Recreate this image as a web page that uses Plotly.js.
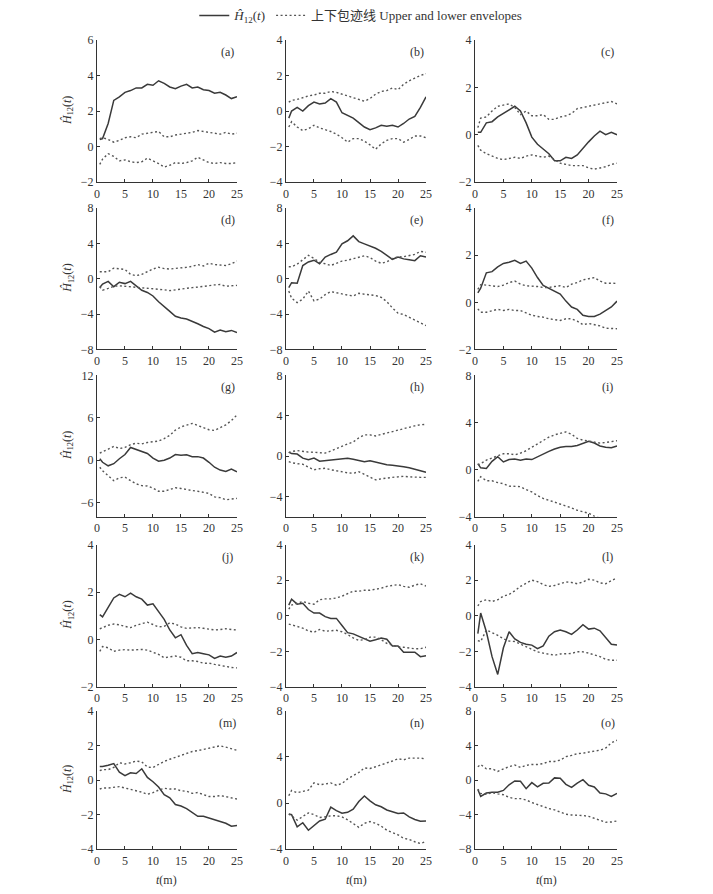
<!DOCTYPE html>
<html><head><meta charset="utf-8">
<script src="https://cdn.plot.ly/plotly-3.0.1.min.js"></script>
<style>html,body{margin:0;padding:0;background:#fff;}#chart{width:713px;height:894px;}</style>
</head><body><div id="chart"></div>
<script>
const T = [0.5,1,2,3,4,5,6,7,8,9,10,11,12,13,14,15,16,17,18,19,20,21,22,23,24,25];

const A_H = [0.4,0.45,1.3,2.6,2.8,3.05,3.15,3.3,3.3,3.5,3.45,3.7,3.55,3.35,3.25,3.4,3.5,3.3,3.35,3.2,3.15,3.0,3.05,2.9,2.7,2.8];
const A_U = [0.45,0.5,0.4,0.25,0.35,0.5,0.55,0.5,0.7,0.75,0.8,0.85,0.55,0.55,0.65,0.7,0.75,0.8,0.9,0.85,0.8,0.75,0.7,0.8,0.7,0.75];
const A_L = [-1.0,-0.7,-0.4,-0.55,-0.8,-0.75,-0.85,-0.9,-0.85,-0.65,-0.8,-0.95,-1.15,-1.05,-0.9,-0.95,-0.9,-0.8,-0.6,-0.75,-0.9,-0.95,-0.9,-0.95,-0.95,-0.9];

const B_H = [-0.4,0.0,0.2,0.0,0.3,0.5,0.4,0.45,0.7,0.5,-0.1,-0.25,-0.4,-0.65,-0.9,-1.05,-0.95,-0.8,-0.85,-0.8,-0.9,-0.7,-0.45,-0.3,0.2,0.8];
const B_U = [0.5,0.6,0.65,0.75,0.85,0.9,1.0,1.0,1.1,1.05,0.95,0.85,0.75,0.65,0.55,0.7,0.95,1.1,1.15,1.3,1.2,1.5,1.7,1.85,2.0,2.1];
const B_L = [-0.9,-0.6,-0.9,-1.1,-1.0,-0.8,-0.95,-1.05,-1.15,-1.3,-1.5,-1.75,-1.55,-1.55,-1.7,-1.9,-2.15,-1.85,-1.65,-1.55,-1.55,-1.75,-1.6,-1.4,-1.4,-1.5];

const C_H = [0.1,0.1,0.5,0.55,0.75,0.9,1.05,1.2,1.0,0.5,-0.1,-0.4,-0.6,-0.8,-1.1,-1.1,-0.95,-1.0,-0.85,-0.55,-0.3,-0.05,0.15,0.0,0.1,0.0];
const C_U = [0.3,0.7,0.75,1.0,1.2,1.25,1.3,1.15,0.85,1.0,0.8,0.8,0.85,0.65,0.65,0.75,0.8,0.9,1.1,1.15,1.2,1.25,1.3,1.35,1.4,1.3];
const C_L = [-0.45,-0.65,-0.8,-0.9,-1.0,-1.05,-1.0,-0.95,-1.0,-0.9,-0.85,-0.9,-0.95,-0.9,-1.05,-1.2,-1.25,-1.3,-1.3,-1.3,-1.4,-1.45,-1.4,-1.35,-1.25,-1.2];

const D_H = [-1.0,-0.6,-0.3,-0.9,-0.4,-0.55,-0.3,-0.8,-1.3,-1.55,-1.95,-2.6,-3.2,-3.7,-4.25,-4.45,-4.55,-4.8,-5.1,-5.4,-5.65,-6.05,-5.8,-6.0,-5.85,-6.1];
const D_U = [0.8,0.8,0.8,1.2,1.1,1.05,0.5,0.35,0.5,0.8,1.1,1.3,1.15,1.1,1.15,1.25,1.3,1.4,1.6,1.45,1.75,1.6,1.55,1.5,1.7,2.0];
const D_L = [-0.9,-1.3,-1.1,-0.85,-0.8,-0.85,-0.9,-1.0,-1.05,-1.1,-1.1,-1.2,-1.25,-1.35,-1.25,-1.15,-1.1,-1.0,-0.95,-0.85,-0.8,-0.7,-0.65,-0.85,-0.8,-0.75];

const E_H = [-1.0,-0.45,-0.5,1.5,1.9,2.1,1.7,2.45,2.75,3.0,3.95,4.3,4.85,4.2,3.95,3.7,3.45,3.1,2.65,2.2,2.45,2.25,2.15,2.05,2.6,2.45];
const E_U = [1.35,1.35,1.65,2.2,2.65,2.3,1.85,1.7,1.5,1.75,2.0,2.1,2.25,2.4,2.6,2.4,2.0,1.75,1.9,2.3,2.45,2.5,2.6,2.75,3.1,3.0];
const E_L = [-1.4,-2.2,-2.7,-2.3,-1.4,-2.5,-2.3,-1.8,-1.45,-1.6,-1.75,-1.85,-1.95,-1.65,-1.75,-1.85,-1.9,-2.1,-2.6,-3.3,-3.9,-4.05,-4.35,-4.7,-5.0,-5.3];

const F_H = [0.4,0.6,1.25,1.3,1.5,1.65,1.7,1.78,1.65,1.75,1.45,1.05,0.72,0.6,0.5,0.35,0.05,-0.2,-0.3,-0.55,-0.6,-0.6,-0.5,-0.35,-0.2,0.05];
const F_U = [0.55,0.75,0.73,0.7,0.67,0.73,0.84,0.9,0.77,0.7,0.7,0.67,0.63,0.63,0.67,0.7,0.63,0.77,0.84,0.95,1.0,1.05,0.9,0.81,0.81,0.8];
const F_L = [-0.28,-0.42,-0.42,-0.35,-0.3,-0.35,-0.3,-0.35,-0.35,-0.45,-0.55,-0.6,-0.63,-0.7,-0.73,-0.77,-0.7,-0.7,-0.8,-0.95,-0.9,-0.95,-1.0,-1.1,-1.12,-1.12];

const G_H = [0.2,-0.3,-0.8,-0.5,0.2,0.8,1.8,1.55,1.3,0.95,0.3,-0.15,0.0,0.3,0.8,0.7,0.75,0.5,0.5,0.3,-0.3,-1.0,-1.4,-1.6,-1.25,-1.65];
const G_U = [1.0,1.15,1.55,1.95,1.65,1.8,2.2,2.4,2.3,2.5,2.55,2.7,3.05,3.5,4.25,4.7,4.95,5.2,4.9,4.6,4.3,4.2,4.6,5.0,5.6,6.4];
const G_L = [-1.0,-1.5,-2.2,-2.9,-2.5,-2.4,-2.9,-3.35,-3.6,-3.65,-3.95,-4.4,-4.4,-4.15,-3.9,-4.0,-4.2,-4.3,-4.4,-4.5,-4.7,-5.2,-5.3,-5.6,-5.5,-5.4];

const H_H = [0.4,0.25,0.2,-0.2,-0.35,-0.2,-0.5,-0.45,-0.4,-0.35,-0.3,-0.2,-0.3,-0.4,-0.55,-0.45,-0.6,-0.75,-0.85,-0.9,-0.95,-1.05,-1.15,-1.3,-1.4,-1.6];
const H_U = [0.35,0.45,0.55,0.45,0.4,0.38,0.35,0.3,0.5,0.75,1.0,1.2,1.4,1.8,2.1,2.1,2.0,2.15,2.3,2.45,2.55,2.7,2.85,3.0,3.1,3.15];
const H_L = [-0.55,-0.65,-0.75,-0.8,-1.1,-1.35,-1.25,-1.2,-1.35,-1.45,-1.6,-1.65,-1.7,-1.55,-1.8,-2.1,-2.35,-2.25,-2.15,-2.1,-2.05,-2.0,-2.05,-2.1,-2.1,-2.1];

const I_H = [0.5,0.15,0.1,0.7,1.1,0.65,0.85,0.9,0.8,0.9,0.85,1.1,1.3,1.55,1.75,1.9,1.95,1.95,2.05,2.2,2.4,2.25,2.0,1.9,1.85,2.0];
const I_U = [0.4,0.5,0.8,1.0,1.2,1.35,1.35,1.25,1.4,1.6,1.9,2.2,2.5,2.75,2.95,3.1,3.2,3.0,2.65,2.5,2.4,2.3,2.25,2.3,2.4,2.45];
const I_L = [-1.0,-0.6,-0.95,-0.95,-1.1,-1.2,-1.4,-1.45,-1.45,-1.7,-1.9,-2.2,-2.45,-2.6,-2.75,-2.95,-3.1,-3.25,-3.45,-3.55,-3.7,-3.95,-4.1,-4.3,-4.5,-4.7];

const J_H = [1.05,0.95,1.35,1.75,1.9,1.8,1.95,1.8,1.7,1.45,1.5,1.15,0.85,0.4,0.07,0.2,-0.25,-0.6,-0.55,-0.6,-0.65,-0.8,-0.7,-0.75,-0.7,-0.55];
const J_U = [0.45,0.5,0.6,0.65,0.62,0.55,0.5,0.6,0.67,0.73,0.63,0.53,0.55,0.7,0.65,0.53,0.47,0.48,0.5,0.47,0.42,0.4,0.42,0.45,0.42,0.4];
const J_L = [-0.5,-0.3,-0.35,-0.5,-0.45,-0.43,-0.45,-0.42,-0.42,-0.45,-0.53,-0.63,-0.77,-0.73,-0.7,-0.75,-0.9,-0.9,-0.93,-1.0,-1.0,-1.05,-1.1,-1.15,-1.18,-1.2];

const K_H = [0.6,0.93,0.65,0.7,0.35,0.15,0.15,-0.05,-0.15,-0.15,-0.55,-0.95,-1.02,-1.15,-1.28,-1.43,-1.35,-1.25,-1.32,-1.7,-1.7,-2.05,-2.05,-2.05,-2.3,-2.25];
const K_U = [0.37,0.6,0.7,0.8,0.7,0.65,0.9,0.95,0.95,1.0,1.1,1.25,1.38,1.38,1.43,1.43,1.48,1.55,1.65,1.7,1.75,1.65,1.6,1.72,1.8,1.67];
const K_L = [-0.47,-0.5,-0.6,-0.7,-0.85,-0.93,-0.77,-0.87,-0.85,-0.82,-0.9,-1.05,-1.25,-1.38,-1.35,-1.2,-1.2,-1.35,-1.55,-1.65,-1.75,-1.77,-1.83,-1.86,-1.85,-1.77];

const L_H = [-1.0,0.15,-0.9,-2.3,-3.3,-1.8,-0.9,-1.3,-1.5,-1.6,-1.65,-1.85,-1.7,-1.15,-0.9,-0.8,-0.9,-1.05,-0.8,-0.5,-0.75,-0.7,-0.85,-1.2,-1.6,-1.65];
const L_U = [0.55,0.8,0.9,0.8,0.9,1.1,1.2,1.4,1.65,1.85,2.0,1.92,1.75,1.65,1.7,1.8,1.9,1.87,1.8,1.9,2.05,2.0,1.85,1.8,1.95,2.14];
const L_L = [-1.4,-1.45,-0.8,-0.95,-1.1,-1.3,-1.42,-1.45,-1.6,-1.75,-1.86,-2.03,-2.1,-2.17,-2.22,-2.15,-2.14,-2.12,-2.02,-2.03,-2.1,-2.2,-2.3,-2.45,-2.5,-2.5];

const M_H = [0.78,0.78,0.85,0.95,0.45,0.25,0.42,0.38,0.65,0.15,-0.1,-0.4,-0.85,-1.03,-1.42,-1.5,-1.65,-1.88,-2.1,-2.1,-2.2,-2.32,-2.42,-2.5,-2.67,-2.63];
const M_U = [0.54,0.6,0.6,0.73,1.0,0.93,1.0,1.1,1.05,0.75,0.72,0.9,1.08,1.2,1.32,1.45,1.55,1.65,1.7,1.76,1.85,1.92,1.98,1.9,1.8,1.72];
const M_L = [-0.52,-0.46,-0.46,-0.42,-0.38,-0.46,-0.53,-0.62,-0.7,-0.82,-0.73,-0.58,-0.48,-0.52,-0.52,-0.62,-0.65,-0.77,-0.72,-0.84,-0.95,-0.95,-0.9,-0.96,-1.04,-1.1];

const N_H = [-0.95,-1.0,-2.05,-1.7,-2.35,-1.95,-1.55,-1.4,-0.35,-0.65,-0.88,-0.8,-0.52,0.14,0.62,0.2,-0.15,-0.32,-0.6,-0.75,-0.9,-0.85,-1.2,-1.42,-1.58,-1.55];
const N_U = [0.64,1.1,0.9,1.0,1.13,1.75,1.6,1.65,1.75,1.55,1.7,2.1,2.4,2.65,3.05,3.0,3.15,3.3,3.45,3.65,3.85,3.75,3.9,3.9,3.9,3.83];
const N_L = [-0.95,-1.1,-1.48,-1.15,-0.85,-1.0,-1.25,-1.19,-1.1,-1.1,-1.2,-1.45,-1.8,-2.1,-1.75,-1.6,-1.75,-2.0,-2.35,-2.55,-2.75,-3.05,-3.15,-3.35,-3.5,-3.33];

const O_H = [-1.1,-1.9,-1.5,-1.4,-1.4,-1.2,-0.55,-0.1,-0.15,-1.0,-0.3,-0.8,-0.38,-0.35,0.25,0.2,-0.5,-0.85,-0.35,0.05,-0.6,-0.8,-1.5,-1.6,-1.9,-1.55];
const O_U = [1.54,1.8,1.3,1.3,1.0,1.3,1.55,1.73,1.45,1.7,1.8,1.8,1.9,2.15,2.15,2.3,2.7,2.85,3.05,3.1,3.25,3.35,3.45,3.7,4.3,4.6];
const O_L = [-1.04,-1.54,-1.65,-1.45,-1.6,-1.7,-2.0,-2.15,-2.15,-2.3,-2.6,-2.85,-3.1,-3.3,-3.45,-3.7,-3.95,-4.04,-4.04,-4.1,-4.2,-4.45,-4.65,-4.88,-4.85,-4.73];

const LABELS = ['(a)','(b)','(c)','(d)','(e)','(f)','(g)','(h)','(i)','(j)','(k)','(l)','(m)','(n)','(o)'];
const X_TICKS = [0,5,10,15,20,25];
const Y_RANGES = [[-2,6],[-4,4],[-2,4],[-8,8],[-8,8],[-2,4],[-8,12],[-6,8],[-4,8],[-2,4],[-4,4],[-4,4],[-4,4],[-4,8],[-8,8]];
const Y_TICKS = [[-2,0,2,4,6],[-4,-2,0,2,4],[-2,0,2,4],[-8,-4,0,4,8],[-8,-4,0,4,8],[-2,0,2,4],[-6,0,6,12],[-4,0,4,8],[-4,0,4,8],[-2,0,2,4],[-4,-2,0,2,4],[-4,-2,0,2,4],[-4,-2,0,2,4],[-4,0,4,8],[-8,-4,0,4,8]];
const SERIES = [[A_H,A_U,A_L],[B_H,B_U,B_L],[C_H,C_U,C_L],[D_H,D_U,D_L],[E_H,E_U,E_L],[F_H,F_U,F_L],[G_H,G_U,G_L],[H_H,H_U,H_L],[I_H,I_U,I_L],[J_H,J_U,J_L],[K_H,K_U,K_L],[L_H,L_U,L_L],[M_H,M_U,M_L],[N_H,N_U,N_L],[O_H,O_U,O_L]];

const NAME_H = '<i>Ĥ</i><sub>12</sub>(<i>t</i>)';
const NAME_E = '上下包迹线 Upper and lower envelopes';

const FONT = 'Liberation Serif, Times New Roman, Noto Sans CJK SC, serif';
const INK = '#333333';
const colDom = [[0.1360,0.3324],[0.4011,0.5975],[0.6662,0.8654]];
const rowDom = [[0.7998,0.9597],[0.6119,0.7707],[0.4239,0.5828],[0.2327,0.3926],[0.0503,0.2058]];

const traces = [];
const layout = {
  width:713, height:894, margin:{l:0,r:0,t:0,b:0},
  paper_bgcolor:'#fff', plot_bgcolor:'#fff',
  font:{family:FONT, size:12, color:INK},
  showlegend:true,
  legend:{orientation:'h', x:0.506, xanchor:'center', y:1.004, yanchor:'top',
          font:{family:FONT, size:13, color:INK}, bgcolor:'rgba(0,0,0,0)', tracegroupgap:0},
  annotations:[]
};

for (let i=0;i<15;i++){
  const r = Math.floor(i/3), c = i%3;
  const sfx = i===0 ? '' : String(i+1);
  const xa = 'x'+sfx, ya = 'y'+sfx;
  const [h,u,l] = SERIES[i];
  traces.push({x:T, y:h, xaxis:xa, yaxis:ya, type:'scatter', mode:'lines',
    line:{color:'#3a3a3a', width:1.5}, name:NAME_H, showlegend:i===0, legendgroup:'h', hoverinfo:'skip'});
  traces.push({x:T, y:u, xaxis:xa, yaxis:ya, type:'scatter', mode:'lines',
    line:{color:'#555', width:1.4, dash:'2px,2.5px'}, name:NAME_E, showlegend:i===0, legendgroup:'e', hoverinfo:'skip'});
  traces.push({x:T, y:l, xaxis:xa, yaxis:ya, type:'scatter', mode:'lines',
    line:{color:'#555', width:1.4, dash:'2px,2.5px'}, name:NAME_E, showlegend:false, legendgroup:'e', hoverinfo:'skip'});
  const axCommon = {showline:true, linecolor:INK, linewidth:1, ticks:'inside', ticklen:3, tickcolor:INK,
    showgrid:false, zeroline:false, tickfont:{family:FONT, size:12, color:INK}, fixedrange:true};
  layout['xaxis'+sfx] = Object.assign({}, axCommon, {domain:colDom[c], anchor:ya, range:[0,25], tickvals:X_TICKS});
  layout['yaxis'+sfx] = Object.assign({}, axCommon, {domain:rowDom[r], anchor:xa, range:Y_RANGES[i], tickvals:Y_TICKS[i]});
  layout.annotations.push({text:LABELS[i], xref:xa+' domain', yref:ya+' domain', x:0.935, y:0.915,
    xanchor:'center', yanchor:'middle', showarrow:false, font:{family:FONT, size:12, color:INK}});
  if (c===0){
    layout.annotations.push({text:NAME_H, xref:'paper', yref:ya+' domain', x:68/713, y:0.5, textangle:-90,
      xanchor:'center', yanchor:'middle', showarrow:false, font:{family:FONT, size:12, color:INK}});
  }
  if (r===4){
    layout.annotations.push({text:'<i>t</i>(m)', xref:xa+' domain', yref:'paper', x:0.5, y:1-880/894,
      xanchor:'center', yanchor:'middle', showarrow:false, font:{family:FONT, size:12, color:INK}});
  }
}

Plotly.newPlot('chart', traces, layout, {staticPlot:true, displayModeBar:false});
</script></body></html>
